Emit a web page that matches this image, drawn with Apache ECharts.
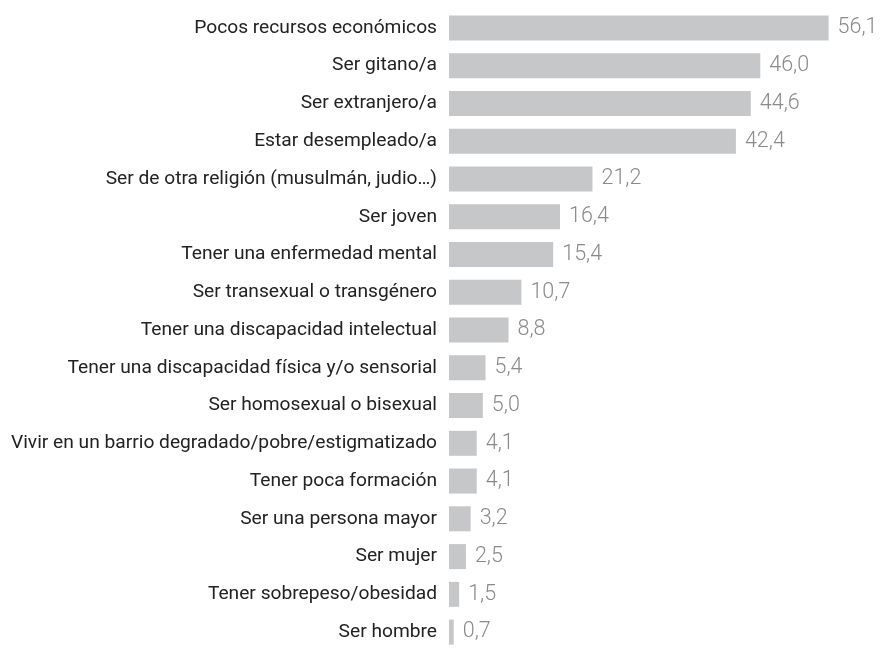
<!DOCTYPE html>
<html><head><meta charset="utf-8">
<script src="https://cdn.jsdelivr.net/npm/echarts@6/dist/echarts.min.js"></script>
<style>html,body{margin:0;padding:0;background:#fff}#c{width:885px;height:651px}</style>
</head><body><div id="c"></div>
<script>
const categories = [
  "Pocos recursos económicos",
  "Ser gitano/a",
  "Ser extranjero/a",
  "Estar desempleado/a",
  "Ser de otra religión (musulmán, judio…)",
  "Ser joven",
  "Tener una enfermedad mental",
  "Ser transexual o transgénero",
  "Tener una discapacidad intelectual",
  "Tener una discapacidad física y/o sensorial",
  "Ser homosexual o bisexual",
  "Vivir en un barrio degradado/pobre/estigmatizado",
  "Tener poca formación",
  "Ser una persona mayor",
  "Ser mujer",
  "Tener sobrepeso/obesidad",
  "Ser hombre"
];
const values = [56.1, 46.0, 44.6, 42.4, 21.2, 16.4, 15.4, 10.7, 8.8, 5.4, 5.0, 4.1, 4.1, 3.2, 2.5, 1.5, 0.7];

const chart = echarts.init(document.getElementById('c'));
chart.setOption({
  animation: false,
  grid: { left: 449, top: 9, width: 406, height: 651, containLabel: false },
  xAxis: { type: 'value', min: 0, max: 60, show: false },
  yAxis: {
    type: 'category', data: categories, inverse: true,
    axisLine: { show: false }, axisTick: { show: false },
    axisLabel: { color: '#222222', fontFamily: 'Roboto', fontSize: 19.2, margin: 12 }
  },
  series: [{
    type: 'bar', data: values, barWidth: 25,
    itemStyle: { color: '#c6c7c9' },
    label: {
      show: true, position: 'right', distance: 9,
      color: '#8a8a8a', fontFamily: 'Roboto', fontWeight: 300, fontSize: 21.5,
      formatter: p => p.value.toFixed(1).replace('.', ',')
    }
  }]
});
</script></body></html>
